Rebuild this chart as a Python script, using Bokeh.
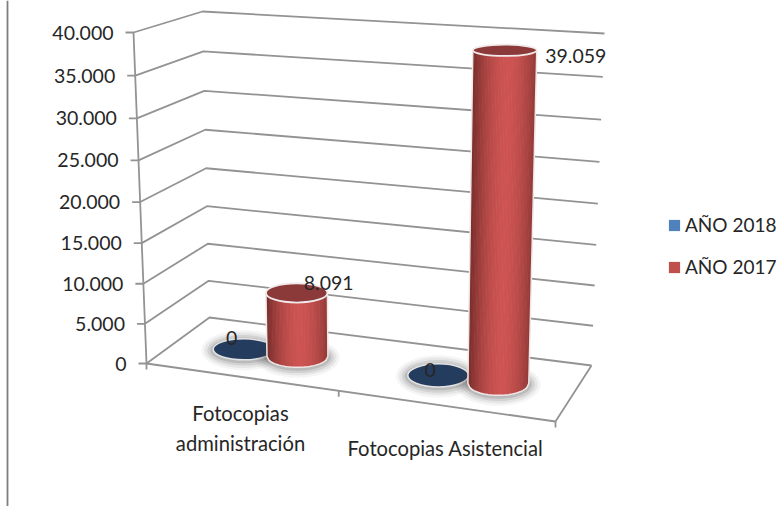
import math
from bokeh.plotting import figure
from bokeh.embed import file_html
from bokeh.resources import INLINE
from bokeh.models import Legend, LegendItem
from bokeh.core.properties import value

categories = ["Fotocopias\nadministración", "Fotocopias Asistencial"]
series_names = ["AÑO 2018", "AÑO 2017"]
anio_2018 = [0, 0]
anio_2017 = [8091, 39059]
ticks = [0, 5000, 10000, 15000, 20000, 25000, 30000, 35000, 40000]
AXIS_MAX = 40000

FONT = value("Lato")
TEXT = "#262626"
GRID = "#939393"
W, H = 783, 506

def fmt(v):
    return f"{v:,}".replace(",", ".")

# Scene box: screen position of its corners (front/back, left/right, floor/top)
FL0, FR0, BL0, BR0 = (146, 363), (555, 421), (209, 317), (591, 365)
FL1, FR1, BL1, BR1 = (133, 32), (563, 59), (202, 11), (604, 33)

def lerp(a, b, f):
    return a + (b - a) * f

def proj(u, d, v):
    """category axis u (0..1), depth d (0..1), value v -> page position"""
    t = v / AXIS_MAX
    s = t / (t + 1.05 * (1 - t))
    out = []
    for i in (0, 1):
        floor = lerp(lerp(FL0[i], FR0[i], u), lerp(BL0[i], BR0[i], u), d)
        top = lerp(lerp(FL1[i], FR1[i], u), lerp(BL1[i], BR1[i], u), d)
        out.append(lerp(floor, top, s))
    return out

def radii(u, v, ru=0.077, rd=0.22):
    x0, _ = proj(u - 0.5, 0.5, v)
    x1, _ = proj(u + 0.5, 0.5, v)
    _, y0 = proj(u, 0, v)
    _, y1 = proj(u, 1, v)
    return abs(x1 - x0) * ru, abs(y0 - y1) * rd

p = figure(width=W, height=H, x_range=(0, W), y_range=(H, 0),
           toolbar_location=None, output_backend="svg", min_border=0,
           background_fill_color="white", border_fill_color="white")
p.axis.visible = False
p.grid.visible = False
p.outline_line_color = None

# sheet border on the left
p.line([7, 7], [0, H], line_color="#7f7f7f", line_width=1.8)

# walls and floor
for v in ticks:
    a, b, c = proj(0, 0, v), proj(0, 1, v), proj(1, 1, v)
    p.line([a[0] - 8, a[0], b[0], c[0]], [a[1], a[1], b[1], c[1]],
           line_color=GRID, line_width=1.8)
    p.text([a[0] - 20], [a[1]], text=[fmt(v)], text_font=FONT, text_font_size="19.5px",
           text_color=TEXT, text_align="right", text_baseline="middle")
pts = [proj(0, 0, AXIS_MAX), proj(0, 0, 0), proj(1, 0, 0), proj(1, 1, 0)]
p.line([q[0] for q in pts], [q[1] for q in pts], line_color=GRID, line_width=1.8)
for u in (0, 0.47, 1):
    q = proj(u, 0, 0)
    p.line([q[0], q[0]], [q[1], q[1] + 6], line_color=GRID, line_width=1.8)

# category labels
p.text([240], [427], text=[categories[0]], text_font=FONT, text_font_size="20.2px",
       text_color=TEXT, text_align="center", text_baseline="middle", text_line_height=1.25)
p.text([445], [447], text=[categories[1]], text_font=FONT, text_font_size="20.2px",
       text_color=TEXT, text_align="center", text_baseline="middle")

def shadow(cx, cy, rx, ry):
    for g, al in ((12, 0.05), (9, 0.08), (6, 0.12), (3, 0.16)):
        p.ellipse([cx], [cy + 1], width=[2 * (rx + g)], height=[2 * (ry + g * 0.8)],
                  fill_color="#404040", fill_alpha=al, line_color=None)

U_2018 = [0.166, 0.658]
U_2017 = [0.302, 0.81]
DEPTH = 0.5
BLUE_DARK, RED_TOP = "#243c5e", "#8b3a39"
EDGE, MID = (125, 48, 46), (205, 84, 82)
LBL_2018 = [(-12, -11), (-8, -5)]
LBL_2017 = [(32, -10), (71, 6)]

# zero-height series: flat discs
for u, val, off in zip(U_2018, anio_2018, LBL_2018):
    cx, cy = proj(u, DEPTH, val)
    rx, ry = radii(u, val)
    shadow(cx, cy, rx, ry)
    p.ellipse([cx], [cy], width=[2 * rx], height=[2 * ry], fill_color=BLUE_DARK,
              line_color="#e4e4e4", line_width=1.5)

# cylinders
for u, val in zip(U_2017, anio_2017):
    cx0, cy0 = proj(u, DEPTH, 0)
    rx0, ry0 = radii(u, 0)
    cx1, cy1 = proj(u, DEPTH, val)
    rx1, ry1 = radii(u, val)
    shadow(cx0, cy0, rx0, ry0)
    n = 44
    xs, ys, cols = [], [], []
    for i in range(n):
        f0, f1 = -1 + 2 * i / n, -1 + 2 * (i + 1) / n
        f2 = min(1, f1 + 0.02)
        yb = lambda f: cy0 + ry0 * math.sqrt(max(0, 1 - f * f))
        xs.append([cx1 + f0 * rx1, cx1 + f2 * rx1, cx0 + f2 * rx0, cx0 + f0 * rx0])
        ys.append([cy1, cy1, yb(f2), yb(f0)])
        k = ((f0 + f1) / 2 - 0.1)
        k = 1 - min(1, abs(k) / 1.05) ** 1.8
        cols.append("#%02x%02x%02x" % tuple(round(lerp(e, m, k)) for e, m in zip(EDGE, MID)))
    p.patches(xs, ys, fill_color=cols, line_color=None)
    # light rim of the body
    m = 30
    rimx = [cx1 - rx1] + [cx0 + rx0 * (-1 + 2 * j / m) for j in range(m + 1)] + [cx1 + rx1]
    rimy = [cy1] + [cy0 + ry0 * math.sqrt(max(0, 1 - (-1 + 2 * j / m) ** 2)) for j in range(m + 1)] + [cy1]
    p.line(rimx, rimy, line_color="#efe6e6", line_width=1.5)
    p.ellipse([cx1], [cy1], width=[2 * rx1], height=[2 * ry1], fill_color=RED_TOP,
              line_color="#f2eaea", line_width=1.8)

# data labels
for us, vals, offs in ((U_2018, anio_2018, LBL_2018), (U_2017, anio_2017, LBL_2017)):
    for u, val, off in zip(us, vals, offs):
        cx, cy = proj(u, DEPTH, val)
        p.text([cx + off[0]], [cy + off[1]], text=[fmt(val)], text_font=FONT,
               text_font_size="19.5px", text_color=TEXT, text_align="center",
               text_baseline="middle")

# legend
nan = float("nan")
r1 = p.quad(left=[nan], right=[nan], top=[nan], bottom=[nan], fill_color="#4f81bd", line_color=None)
r2 = p.quad(left=[nan], right=[nan], top=[nan], bottom=[nan], fill_color="#c0504d", line_color=None)
leg = Legend(items=[LegendItem(label=series_names[0], renderers=[r1]),
                    LegendItem(label=series_names[1], renderers=[r2])],
             location=(667, 228), orientation="vertical", background_fill_alpha=0,
             border_line_color=None, padding=0, margin=0, spacing=19,
             glyph_width=14, glyph_height=14, label_standoff=4,
             label_text_font="Lato", label_text_font_size="19px", label_text_color=TEXT,
             label_height=23)
p.add_layout(leg)

open("out.html", "w").write(file_html(p, INLINE))
